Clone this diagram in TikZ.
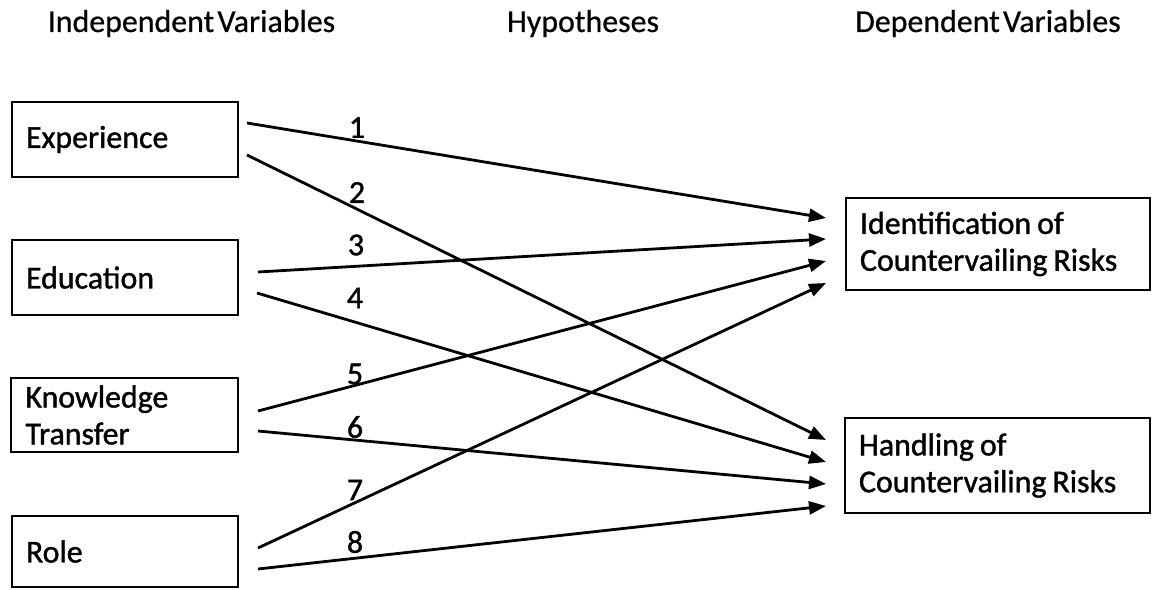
\documentclass[tikz,border=0pt]{standalone}
\usepackage{fontspec}
\setmainfont{Carlito}[WordSpace=0.45]
\newfontfamily\boxfont{Carlito}[WordSpace=0.45,FakeBold=1.2]
\newfontfamily\headfont{Carlito}[WordSpace=0.45,FakeBold=0.6]
\newcommand{\tsp}{\hspace{6bp}}
\usetikzlibrary{arrows.meta}
\begin{document}
\begin{tikzpicture}[x=1bp,y=-1bp,
  hlbl/.style={font=\fontsize{32}{38}\headfont, inner sep=0pt},
  lbl/.style={font=\fontsize{32}{38}\boxfont, inner sep=0pt},
  box/.style={draw, line width=2bp, font=\fontsize{32}{37}\boxfont, align=left, inner xsep=14bp, inner ysep=0pt},
  conn/.style={line width=2.8bp, -{Triangle[length=17bp,width=13bp]}}]
\useasboundingbox (0,0) rectangle (1160,590);

% headers
\node[hlbl, anchor=base] (hind) at (191.5,32) {Independent Variables};
\node[hlbl, anchor=base] (hhyp) at (583,32) {Hypotheses};
\node[hlbl, anchor=base] (hdep) at (988,32) {Dependent Variables};

% independent variables
\node[box, minimum width=226bp, minimum height=75bp, text width=198bp] (exp) at (125,139.5) {Experience};
\node[box, minimum width=226bp, minimum height=75bp, text width=198bp] (edu) at (125,277.5) {Education};
\node[box, minimum width=226bp, minimum height=74bp, text width=198bp] (kt) at (124.5,415) {Knowledge\\Transfer};
\node[box, minimum width=226bp, minimum height=71bp, text width=198bp] (role) at (125,551.5) {Role};

% dependent variables
\node[box, minimum width=304bp, minimum height=92bp, text width=276bp] (ident) at (998,244) {Identification\tsp of\\Countervailing\tsp Risks};
\node[box, minimum width=305bp, minimum height=95bp, text width=277bp] (hand) at (997.5,465.5) {Handling\tsp of\\Countervailing\tsp Risks};

% connector end points
\coordinate (s1) at (247,123);
\coordinate (s2) at (247,155);
\coordinate (s3) at (258,272);
\coordinate (s4) at (257,293);
\coordinate (s5) at (258,411);
\coordinate (s6) at (258,431);
\coordinate (s7) at (258,548);
\coordinate (s8) at (258,569);

\coordinate (i1) at (826,218);
\coordinate (i3) at (826,239);
\coordinate (i5) at (826,261);
\coordinate (i7) at (826,283);
\coordinate (h2) at (826,440);
\coordinate (h4) at (826,462);
\coordinate (h6) at (826,484);
\coordinate (h8) at (826,506);

\draw[conn] (s1) -- (i1);
\draw[conn] (s2) -- (h2);
\draw[conn] (s3) -- (i3);
\draw[conn] (s4) -- (h4);
\draw[conn] (s5) -- (i5);
\draw[conn] (s6) -- (h6);
\draw[conn] (s7) -- (i7);
\draw[conn] (s8) -- (h8);

% hypothesis numbers
\node[lbl] (n1) at (357,127.5) {1};
\node[lbl] (n2) at (357,192.5) {2};
\node[lbl] (n3) at (356,245) {3};
\node[lbl] (n4) at (355,298) {4};
\node[lbl] (n5) at (355,374) {5};
\node[lbl] (n6) at (355,427) {6};
\node[lbl] (n7) at (355,490) {7};
\node[lbl] (n8) at (355,542) {8};
\end{tikzpicture}
\end{document}
